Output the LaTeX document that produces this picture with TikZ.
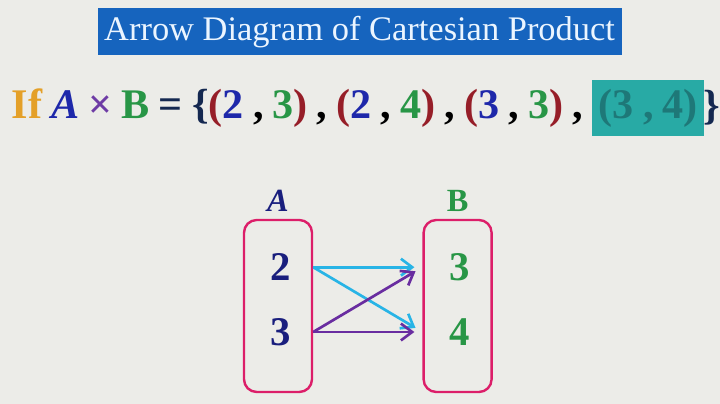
\documentclass[tikz,border=0pt]{standalone}
\usepackage{fontspec}
\setmainfont{Liberation Serif}
\usetikzlibrary{arrows.meta,positioning}
\definecolor{paper}{RGB}{236,236,232}
\definecolor{titleblue}{RGB}{22,100,190}
\definecolor{titletext}{RGB}{235,245,255}
\definecolor{ifgold}{RGB}{228,160,40}
\definecolor{setblue}{RGB}{30,40,170}
\definecolor{navyA}{RGB}{25,30,125}
\definecolor{greenB}{RGB}{40,150,70}
\definecolor{crosspurple}{RGB}{110,60,165}
\definecolor{parred}{RGB}{150,30,40}
\definecolor{bracenavy}{RGB}{20,40,80}
\definecolor{tealbox}{RGB}{40,170,165}
\definecolor{tealtext}{RGB}{30,120,120}
\definecolor{setpink}{RGB}{220,30,105}
\definecolor{arrowcyan}{RGB}{40,180,230}
\definecolor{arrowpurple}{RGB}{105,45,160}

\begin{document}
\begin{tikzpicture}[
        node distance=0pt,
        formula/.style={font=\fontsize{30}{32}\selectfont\bfseries, inner sep=1pt,
            execute at begin node={\spaceskip=6.5pt\relax}},
        setbox/.style={draw=setpink, line width=1.7pt, rounded corners=9pt, minimum width=1.7cm, minimum height=4.3cm},
        setname/.style={font=\fontsize{23}{26}\selectfont\bfseries},
        elem/.style={font=\fontsize{29}{31}\selectfont\bfseries, inner sep=1pt},
        arrow/.style={-{Straight Barb[length=8pt,width=12pt]}, line width=1.9pt, shorten >=0.2cm}
    ]
        % Background
        \fill[paper] (0,0) rectangle (18,10.1);
        \useasboundingbox (0,0) rectangle (18,10.1);

        % Title
        \node[fill=titleblue, minimum width=13.1cm, minimum height=1.17cm, text=titletext,
              font=\fontsize{24.5}{28}\selectfont] (title) at (8.99,9.31) {Arrow Diagram of Cartesian Product};

        % Product
        \node[formula, anchor=west] (cond) at (0.25,7.4) {\textcolor{ifgold}{If}
            \textcolor{setblue}{\textit{A}} \textcolor{crosspurple}{×} \textcolor{greenB}{B}
            \textcolor{bracenavy}{= \{}\textcolor{parred}{(}\textcolor{setblue}{2} , \textcolor{greenB}{3}\textcolor{parred}{)} ,
            \textcolor{parred}{(}\textcolor{setblue}{2} , \textcolor{greenB}{4}\textcolor{parred}{)} ,
            \textcolor{parred}{(}\textcolor{setblue}{3} , \textcolor{greenB}{3}\textcolor{parred}{)} ,};
        \node[formula, right=5pt of cond, fill=tealbox, text=tealtext, minimum height=1.4cm, minimum width=2.8cm] (pair) {(3 , 4)};
        \node[formula, right=0pt of pair, xshift=-2pt, text=bracenavy] (close) {\}};

        % Sets
        \node[setbox] (setA) at (6.95,2.45) {};
        \node[setbox] (setB) at (11.44,2.45) {};
        \node[setname, text=navyA, above=0.05cm of setA] (nameA) {\textit{A}};
        \node[setname, text=greenB, above=0.05cm of setB] (nameB) {B};

        \node[elem, text=navyA] (a2) at (7.02,3.42) {2};
        \node[elem, text=navyA] (a3) at (7.02,1.8) {3};
        \node[elem, text=greenB] (b3) at (11.5,3.42) {3};
        \node[elem, text=greenB] (b4) at (11.5,1.8) {4};

        % Arrows
        \draw[arrow, arrowcyan] (a2 -| setA.east) -- (b3 -| setB.west);
        \draw[arrow, arrowcyan] (a2 -| setA.east) -- (b4 -| setB.west);
        \draw[arrow, arrowpurple] (a3 -| setA.east) -- (b3 -| setB.west);
        \draw[arrow, arrowpurple] (a3 -| setA.east) -- (b4 -| setB.west);

    \end{tikzpicture}
\end{document}
